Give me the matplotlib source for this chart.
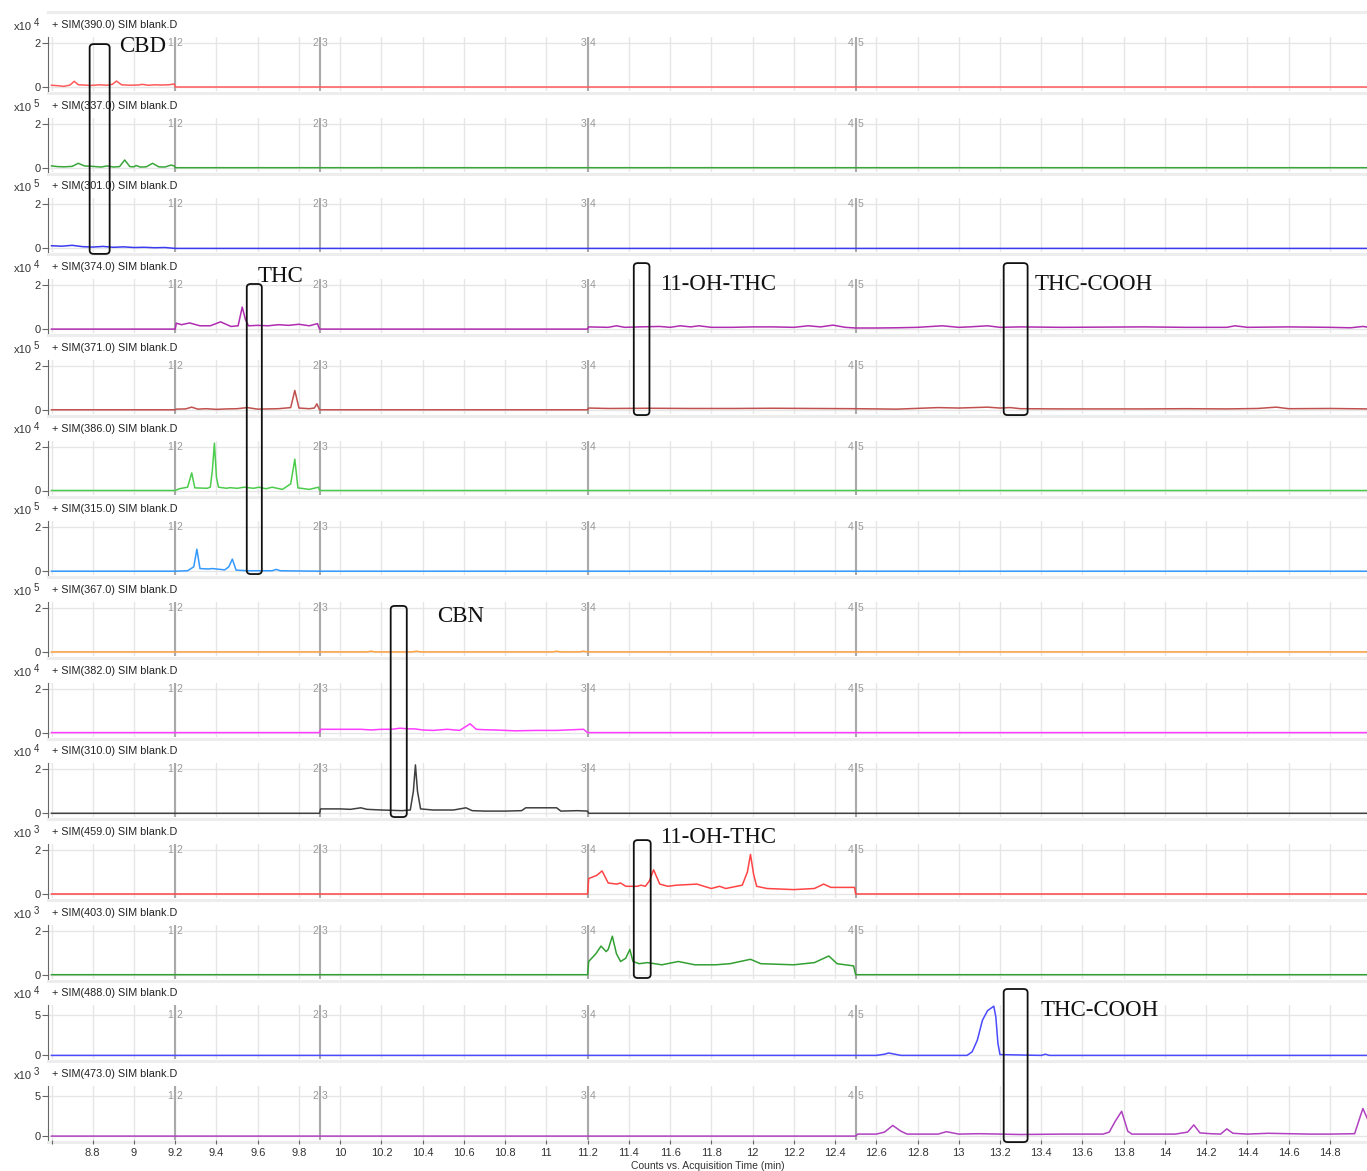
import numpy as np
import matplotlib.pyplot as plt
from matplotlib.patches import FancyBboxPatch
from matplotlib.lines import Line2D

# ---- data: one SIM trace per panel, time in min, counts in units of 10^exp ----
ions = ['390.0', '337.0', '301.0', '374.0', '371.0', '386.0', '315.0',
        '367.0', '382.0', '310.0', '459.0', '403.0', '488.0', '473.0']
exponents = [4, 5, 5, 4, 5, 4, 5, 5, 4, 4, 3, 3, 4, 3]
top_ticks = [2, 2, 2, 2, 2, 2, 2, 2, 2, 2, 2, 2, 5, 5]
colors = ['#ff5a5a', '#3aa63a', '#3a3af0', '#b02cb0', '#c0504d', '#4ccc4c', '#3399ff',
          '#ffa040', '#ff3cff', '#404040', '#ff4444', '#33a033', '#4a4aff', '#b040c0']

segment_times = [9.2, 9.9, 11.2, 12.5]
segment_left = ['1', '2', '3', '4']
segment_right = ['2', '3', '4', '5']

sim390_t = [8.6, 8.63, 8.66, 8.69, 8.71, 8.73, 8.76, 8.79, 8.83, 8.87, 8.895, 8.915, 8.94,
            8.98, 9.02, 9.04, 9.07, 9.1, 9.13, 9.17, 9.195, 9.2, 15.0]
sim390_y = [0.08, 0.06, 0.03, 0.09, 0.26, 0.1, 0.09, 0.07, 0.1, 0.08, 0.12, 0.27, 0.1,
            0.08, 0.09, 0.12, 0.08, 0.1, 0.09, 0.1, 0.14, 0.0, 0.0]

sim337_t = [8.6, 8.63, 8.66, 8.7, 8.73, 8.76, 8.8, 8.84, 8.87, 8.9, 8.93, 8.955, 8.98, 9.0,
            9.01, 9.03, 9.06, 9.09, 9.12, 9.15, 9.18, 9.195, 9.2, 15.0]
sim337_y = [0.08, 0.05, 0.04, 0.06, 0.2, 0.08, 0.06, 0.03, 0.08, 0.03, 0.05, 0.35, 0.05, 0.04,
            0.1, 0.03, 0.04, 0.2, 0.04, 0.03, 0.12, 0.08, 0.0, 0.0]

sim301_t = [8.6, 8.65, 8.7, 8.75, 8.8, 8.85, 8.9, 8.95, 9.0, 9.05, 9.1, 9.15, 9.2, 15.0]
sim301_y = [0.12, 0.1, 0.14, 0.08, 0.06, 0.09, 0.05, 0.07, 0.04, 0.05, 0.03, 0.04, 0.0, 0.0]

sim374_t = [8.6, 9.2, 9.205, 9.23, 9.27, 9.32, 9.37, 9.42, 9.47, 9.505, 9.525, 9.54, 9.555,
            9.6, 9.65, 9.7, 9.75, 9.8, 9.85, 9.89, 9.9, 11.2, 11.205, 11.3, 11.34, 11.38,
            11.45, 11.55, 11.6, 11.65, 11.7, 11.74, 11.8, 11.9, 12.0, 12.1, 12.2, 12.27,
            12.33, 12.39, 12.45, 12.5, 12.6, 12.7, 12.8, 12.92, 13.0, 13.05, 13.14, 13.2,
            13.3, 13.5, 13.7, 13.9, 14.1, 14.3, 14.34, 14.4, 14.6, 14.8, 14.9, 14.96, 14.99]
sim374_y = [0.0, 0.0, 0.27, 0.2, 0.28, 0.15, 0.15, 0.33, 0.12, 0.15, 1.0, 0.45, 0.15,
            0.17, 0.15, 0.2, 0.17, 0.22, 0.15, 0.25, 0.0, 0.0, 0.1, 0.08, 0.15, 0.08,
            0.1, 0.12, 0.08, 0.15, 0.1, 0.15, 0.08, 0.08, 0.1, 0.1, 0.08, 0.15,
            0.1, 0.18, 0.08, 0.05, 0.05, 0.06, 0.08, 0.15, 0.08, 0.1, 0.15, 0.08,
            0.1, 0.08, 0.09, 0.1, 0.08, 0.08, 0.15, 0.08, 0.1, 0.08, 0.06, 0.12, 0.08]

sim371_t = [8.6, 9.2, 9.205, 9.25, 9.28, 9.31, 9.35, 9.4, 9.45, 9.5, 9.55, 9.6, 9.65, 9.7,
            9.76, 9.78, 9.8, 9.85, 9.875, 9.887, 9.9, 11.2, 11.205, 11.3, 11.5, 11.7, 11.9,
            12.1, 12.3, 12.5, 12.7, 12.9, 13.0, 13.14, 13.2, 13.25, 13.3, 13.5, 13.7, 13.9,
            14.1, 14.3, 14.45, 14.54, 14.6, 14.8, 14.99]
sim371_y = [0.0, 0.0, 0.03, 0.04, 0.12, 0.03, 0.05, 0.02, 0.04, 0.05, 0.1, 0.03, 0.04, 0.05,
            0.1, 0.88, 0.08, 0.05, 0.08, 0.27, 0.0, 0.0, 0.08, 0.06, 0.07, 0.06, 0.06,
            0.07, 0.06, 0.05, 0.03, 0.1, 0.08, 0.12, 0.08, 0.1, 0.05, 0.04, 0.04, 0.04,
            0.05, 0.04, 0.06, 0.12, 0.05, 0.06, 0.04]

sim386_t = [8.6, 9.2, 9.22, 9.26, 9.28, 9.295, 9.355, 9.37, 9.38, 9.39, 9.4, 9.41, 9.45,
            9.465, 9.5, 9.535, 9.58, 9.606, 9.64, 9.67, 9.72, 9.76, 9.78, 9.795, 9.85,
            9.895, 9.9, 15.0]
sim386_y = [0.0, 0.0, 0.08, 0.15, 0.8, 0.12, 0.1, 0.15, 0.9, 2.15, 0.6, 0.15, 0.1,
            0.13, 0.1, 0.15, 0.1, 0.15, 0.08, 0.15, 0.05, 0.3, 1.42, 0.12, 0.05,
            0.15, 0.0, 0.0]

sim315_t = [8.6, 9.2, 9.26, 9.29, 9.305, 9.32, 9.36, 9.38, 9.4, 9.44, 9.46, 9.477, 9.495,
            9.55, 9.6, 9.67, 9.69, 9.71, 9.8, 9.9, 15.0]
sim315_y = [0.0, 0.0, 0.02, 0.2, 1.0, 0.12, 0.1, 0.12, 0.1, 0.06, 0.2, 0.55, 0.05,
            0.02, 0.02, 0.02, 0.08, 0.02, 0.01, 0.0, 0.0]

sim367_t = [8.6, 9.9, 10.13, 10.15, 10.17, 10.35, 10.37, 10.39, 11.03, 11.05, 11.07, 11.16,
            11.18, 11.2, 15.0]
sim367_y = [0.0, 0.0, 0.0, 0.03, 0.0, 0.0, 0.03, 0.0, 0.0, 0.03, 0.0, 0.0, 0.03, 0.0, 0.0]

sim382_t = [8.6, 9.9, 9.905, 10.0, 10.1, 10.15, 10.2, 10.25, 10.29, 10.33, 10.36, 10.4,
            10.45, 10.52, 10.58, 10.63, 10.66, 10.7, 10.75, 10.85, 10.95, 11.05, 11.1,
            11.18, 11.2, 15.0]
sim382_y = [0.0, 0.0, 0.15, 0.15, 0.15, 0.12, 0.15, 0.15, 0.2, 0.17, 0.17, 0.12,
            0.1, 0.15, 0.1, 0.4, 0.15, 0.13, 0.12, 0.08, 0.1, 0.1, 0.12,
            0.15, 0.0, 0.0]

sim310_t = [8.6, 9.9, 9.905, 10.0, 10.05, 10.1, 10.13, 10.2, 10.3, 10.34, 10.355, 10.365,
            10.375, 10.39, 10.45, 10.55, 10.61, 10.64, 10.7, 10.8, 10.88, 10.9, 11.05,
            11.07, 11.15, 11.2, 11.205, 15.0]
sim310_y = [0.0, 0.0, 0.2, 0.2, 0.18, 0.25, 0.18, 0.15, 0.12, 0.15, 1.0, 2.2,
            1.0, 0.2, 0.15, 0.15, 0.25, 0.12, 0.1, 0.1, 0.12, 0.25, 0.25,
            0.1, 0.12, 0.1, 0.0, 0.0]

sim459_t = [8.6, 11.2, 11.205, 11.245, 11.27, 11.3, 11.34, 11.36, 11.385, 11.44, 11.46,
            11.48, 11.5, 11.52, 11.55, 11.59, 11.63, 11.73, 11.8, 11.84, 11.87, 11.95,
            11.975, 11.99, 12.005, 12.02, 12.07, 12.2, 12.3, 12.345, 12.38, 12.47, 12.495,
            12.5, 15.0]
sim459_y = [0.0, 0.0, 0.7, 0.85, 1.05, 0.5, 0.45, 0.5, 0.35, 0.35, 0.4,
            0.35, 0.6, 1.1, 0.45, 0.35, 0.4, 0.45, 0.25, 0.35, 0.25, 0.4,
            1.0, 1.8, 0.9, 0.35, 0.25, 0.2, 0.25, 0.45, 0.3, 0.3, 0.3,
            0.0, 0.0]

sim403_t = [8.6, 11.2, 11.205, 11.24, 11.265, 11.29, 11.3, 11.32, 11.34, 11.36, 11.385,
            11.405, 11.42, 11.45, 11.49, 11.56, 11.64, 11.72, 11.82, 11.89, 11.99, 12.04,
            12.2, 12.3, 12.37, 12.41, 12.49, 12.5, 15.0]
sim403_y = [0.0, 0.0, 0.6, 0.95, 1.3, 1.05, 1.15, 1.75, 0.95, 0.6, 0.75,
            1.15, 0.6, 0.5, 0.55, 0.45, 0.6, 0.45, 0.45, 0.5, 0.7, 0.5,
            0.45, 0.55, 0.85, 0.5, 0.4, 0.0, 0.0]

sim488_t = [8.6, 12.6, 12.64, 12.66, 12.69, 12.72, 13.04, 13.065, 13.09, 13.115, 13.14,
            13.17, 13.18, 13.19, 13.2, 13.4, 13.42, 13.44, 15.0]
sim488_y = [0.0, 0.0, 0.15, 0.3, 0.15, 0.0, 0.0, 0.45, 1.9, 4.4, 5.6,
            6.15, 4.8, 1.5, 0.1, 0.0, 0.15, 0.0, 0.0]

sim473_t = [8.6, 12.5, 12.51, 12.6, 12.64, 12.68, 12.72, 12.75, 12.9, 12.94, 13.0, 13.1,
            13.3, 13.5, 13.7, 13.73, 13.76, 13.79, 13.82, 13.84, 14.05, 14.11, 14.14, 14.17,
            14.22, 14.27, 14.3, 14.33, 14.4, 14.5, 14.6, 14.7, 14.8, 14.92, 14.96, 14.99]
sim473_y = [0.0, 0.0, 0.25, 0.25, 0.5, 1.33, 0.6, 0.25, 0.25, 0.55, 0.25, 0.3,
            0.2, 0.25, 0.25, 0.5, 1.9, 3.1, 0.6, 0.25, 0.25, 0.5, 1.4, 0.4,
            0.3, 0.25, 0.9, 0.35, 0.25, 0.35, 0.3, 0.25, 0.25, 0.3, 3.45, 1.7]

traces_t = [sim390_t, sim337_t, sim301_t, sim374_t, sim371_t, sim386_t, sim315_t,
            sim367_t, sim382_t, sim310_t, sim459_t, sim403_t, sim488_t, sim473_t]
traces_y = [sim390_y, sim337_y, sim301_y, sim374_y, sim371_y, sim386_y, sim315_y,
            sim367_y, sim382_y, sim310_y, sim459_y, sim403_y, sim488_y, sim473_y]

# highlighted windows: label, t start, t end, (top panel, value), (bottom panel, value)
box_labels = ['CBD', 'THC', '11-OH-THC', 'THC-COOH', 'CBN', '11-OH-THC', 'THC-COOH']
box_t0 = [8.785, 9.547, 11.424, 13.218, 10.245, 11.424, 13.218]
box_t1 = [8.882, 9.62, 11.50, 13.334, 10.323, 11.506, 13.334]
box_top = [(0, 1.95), (3, 2.05), (3, 3.0), (3, 3.0), (7, 2.09), (10, 2.45), (12, 8.3)]
box_bottom = [(2, -0.25), (6, -0.13), (4, -0.24), (4, -0.24), (9, -0.17), (11, -0.15), (13, -0.75)]
label_t = [8.93, 9.6, 11.553, 13.368, 10.468, 11.553, 13.397]
label_pos = [(0, 1.85), (3, 2.4), (3, 2.05), (3, 2.05), (7, 1.6), (10, 2.55), (12, 5.6)]

x_ticks = np.round(np.arange(8.6, 14.81, 0.2), 1)

# ---- layout (pixels of the 1367x1171 canvas) ----
W, H = 1367, 1171
PITCH = 80.7
LEFT = 48


def fx(px):
    return px / W


def fy(px):
    return 1 - px / H


plt.rcParams['font.family'] = ['Liberation Sans', 'DejaVu Sans']
fig = plt.figure(figsize=(W / 100, H / 100), dpi=100)

axes = []
for i in range(len(ions)):
    top_px = 37 + PITCH * i
    bot_px = 91 + PITCH * i
    ax = fig.add_axes([fx(LEFT), fy(bot_px), fx(W) - fx(LEFT), (bot_px - top_px) / H])
    ax.set_facecolor('none')
    upt = 44 / top_ticks[i] if top_ticks[i] == 2 else 8.0
    ax.set_ylim(-4 / upt, 50 / upt)
    ax.set_xlim(8.583, 14.98)

    ax.set_xticks(x_ticks)
    ax.set_yticks([0, top_ticks[i]])
    ax.grid(True, color='#e6e6e6', lw=1)
    ax.set_axisbelow(True)
    for s in ['top', 'right', 'bottom']:
        ax.spines[s].set_visible(False)
    ax.spines['left'].set_color('#666666')
    ax.tick_params(axis='y', length=4, color='#666666', labelsize=8, labelcolor='#333333', pad=1)

    for t, l, r in zip(segment_times, segment_left, segment_right):
        ax.axvline(t, color='#a9a9a9', lw=1.5, zorder=1)
        ax.annotate(l, (t, top_ticks[i]), xytext=(-1.2, 0), textcoords='offset points',
                    ha='right', va='center', fontsize=7.5, color='#9a9a9a')
        ax.annotate(r, (t, top_ticks[i]), xytext=(1.2, 0), textcoords='offset points',
                    ha='left', va='center', fontsize=7.5, color='#9a9a9a')

    ax.plot(traces_t[i], traces_y[i], color=colors[i], lw=1.1, zorder=3)

    fig.text(fx(52), fy(25 + PITCH * i), f'+ SIM({ions[i]}) SIM blank.D',
             va='center', ha='left', fontsize=7.8, color='#222222')
    fig.text(fx(14), fy(27 + PITCH * i), 'x10', va='center', ha='left', fontsize=8, color='#333333')
    fig.text(fx(34), fy(23 + PITCH * i), str(exponents[i]), va='center', ha='left',
             fontsize=7, color='#333333')

    if i < len(ions) - 1:
        ax.tick_params(axis='x', length=0, labelbottom=False)
    else:
        ax.set_xticklabels(['' if v == 8.6 else f'{v:g}' for v in x_ticks])
        ax.tick_params(axis='x', length=3, color='#666666', labelsize=8,
                       labelcolor='#333333', pad=3)
        ax.set_xlabel('Counts vs. Acquisition Time (min)', fontsize=7.5,
                      color='#333333', labelpad=2)
    axes.append(ax)

# light separators between panels
for i in range(-1, len(ions)):
    y = fy(93 + PITCH * i)
    fig.add_artist(Line2D([fx(LEFT), 1], [y, y], color='#ededed', lw=2.2, zorder=0))

# highlight boxes and compound names
to_fig = fig.transFigure.inverted()
for k in range(len(box_labels)):
    p_top, v_top = box_top[k]
    p_bot, v_bot = box_bottom[k]
    x0, y1 = to_fig.transform(axes[p_top].transData.transform((box_t0[k], v_top)))
    x1, y0 = to_fig.transform(axes[p_bot].transData.transform((box_t1[k], v_bot)))
    fig.add_artist(FancyBboxPatch((x0, y0), x1 - x0, y1 - y0,
                                  boxstyle='round,pad=0,rounding_size=0.003',
                                  transform=fig.transFigure, fill=False,
                                  ec='#111111', lw=1.3, zorder=5))
    p_lab, v_lab = label_pos[k]
    lx, ly = to_fig.transform(axes[p_lab].transData.transform((label_t[k], v_lab)))
    fig.text(lx, ly, box_labels[k], family='Liberation Serif', fontsize=16.5,
             ha='left', va='center', color='#111111', zorder=6)

fig.savefig('out.png', dpi=100)
